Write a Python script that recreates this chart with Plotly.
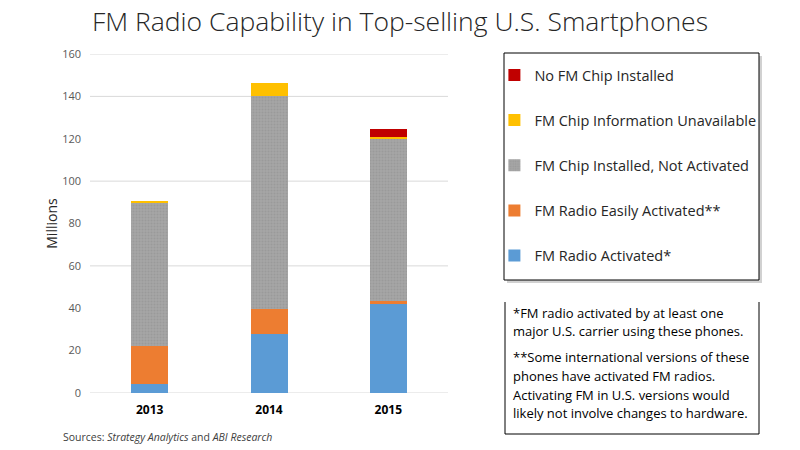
import plotly.graph_objects as go

years = ["2013", "2014", "2015"]
activated = [4.3, 27.9, 42.1]
easily_activated = [17.9, 11.7, 1.3]
installed_not_activated = [67.3, 100.5, 76.4]
info_unavailable = [1.2, 6.0, 1.2]
no_chip = [0.0, 0.0, 3.8]

series_names = [
    "FM Radio Activated*",
    "FM Radio Easily Activated**",
    "FM Chip Installed, Not Activated",
    "FM Chip Information Unavailable",
    "No FM Chip Installed",
]
series_values = [activated, easily_activated, installed_not_activated, info_unavailable, no_chip]
series_colors = ["#5B9BD5", "#ED7D31", "#A5A5A5", "#FFC000", "#C00000"]

y_ticks = [0, 20, 40, 60, 80, 100, 120, 140, 160]
visible_grid = [0, 60, 100, 140, 160]

FONT = "Open Sans"

# plot area geometry (pixels)
W, H = 800, 450
L, R, T, B = 90, 352, 54, 57
PW = W - L - R
PH = H - T - B


def px2x(px):
    return (px - L) / PW


def px2y(py):
    return (H - B - py) / PH


fig = go.Figure()
n = len(series_names)
for i, (name, vals, col) in enumerate(zip(series_names, series_values, series_colors)):
    marker = dict(color=col, line=dict(width=0))
    if i == 2:
        marker["pattern"] = dict(shape=".", fgcolor="#8E8E8E", bgcolor="#A6A6A6", size=3, solidity=0.35)
    fig.add_trace(go.Bar(x=years, y=vals, name=name, marker=marker,
                         legendgroup=f"g{i}", legendrank=n - i, hoverinfo="skip"))

shapes = []
# gridlines
for g in visible_grid:
    shapes.append(dict(type="line", xref="paper", yref="y", x0=0, x1=1, y0=g, y1=g,
                       line=dict(color="#D9D9D9", width=1), layer="below"))
# legend box shadow + box
lx0, lx1, ly0, ly1 = 504, 759, 53, 280
shapes.append(dict(type="rect", xref="paper", yref="paper",
                   x0=px2x(lx0 + 3), x1=px2x(lx1 + 3), y0=px2y(ly1 + 3), y1=px2y(ly0 + 3),
                   fillcolor="rgba(0,0,0,0.18)", line=dict(width=0), layer="above"))
shapes.append(dict(type="rect", xref="paper", yref="paper",
                   x0=px2x(lx0), x1=px2x(lx1), y0=px2y(ly1), y1=px2y(ly0),
                   fillcolor="white", line=dict(color="#000000", width=1), layer="above"))
# notes box (no top border)
nx0, nx1, ny0, ny1 = 505, 759, 302, 434
for (a, b, c, d) in [(nx0, ny0, nx0, ny1), (nx1, ny0, nx1, ny1), (nx0, ny1, nx1, ny1)]:
    shapes.append(dict(type="line", xref="paper", yref="paper",
                       x0=px2x(a), y0=px2y(b), x1=px2x(c), y1=px2y(d),
                       line=dict(color="#000000", width=1), layer="above"))

annotations = []
note_lines = [
    ("*FM radio activated by at least one", 313),
    ("major U.S. carrier using these phones.", 331),
    ("**Some international versions of these", 357),
    ("phones have activated FM radios.", 376),
    ("Activating FM in U.S. versions would", 395),
    ("likely not involve changes to hardware.", 413),
]
for txt, py in note_lines:
    annotations.append(dict(text=txt, xref="paper", yref="paper", x=px2x(511), y=px2y(py),
                            xanchor="left", yanchor="middle", showarrow=False,
                            font=dict(family=FONT, size=13, color="#000000")))
annotations.append(dict(text="Sources: <i>Strategy Analytics</i> and <i>ABI Research</i>",
                        xref="paper", yref="paper", x=px2x(61), y=px2y(437),
                        xanchor="left", yanchor="middle", showarrow=False,
                        font=dict(family=FONT, size=10.5, color="#404040")))

fig.update_layout(
    width=W, height=H,
    margin=dict(l=L, r=R, t=T, b=B),
    paper_bgcolor="white", plot_bgcolor="white",
    barmode="stack", bargap=0.69,
    title=dict(text="FM Radio Capability in Top-selling U.S. Smartphones",
               x=0.5, xref="container", xanchor="center",
               y=1 - 22 / H, yref="container", yanchor="middle",
               font=dict(family=FONT, size=26.5, color="#262626", weight=300)),
    xaxis=dict(type="category", showgrid=False, showline=False, zeroline=False,
               ticklabelstandoff=8,
               tickfont=dict(family=FONT, size=12, color="#000000", weight="bold")),
    yaxis=dict(range=[0, 160], tickvals=y_ticks, showgrid=False, zeroline=False, showline=False,
               tickfont=dict(family=FONT, size=11, color="#595959"), ticklabelstandoff=8,
               title=dict(text="Millions", standoff=1,
                          font=dict(family=FONT, size=14, color="#262626"))),
    legend=dict(traceorder="grouped", tracegroupgap=23.3,
                xref="container", yref="container", x=(lx0 - 12) / W + 0.003, y=1 - (ly0 + 6) / H,
                xanchor="left", yanchor="top", bgcolor="rgba(0,0,0,0)", borderwidth=0,
                font=dict(family=FONT, size=14.5, color="#262626")),
    shapes=shapes, annotations=annotations,
)

fig.write_html("out.html")
